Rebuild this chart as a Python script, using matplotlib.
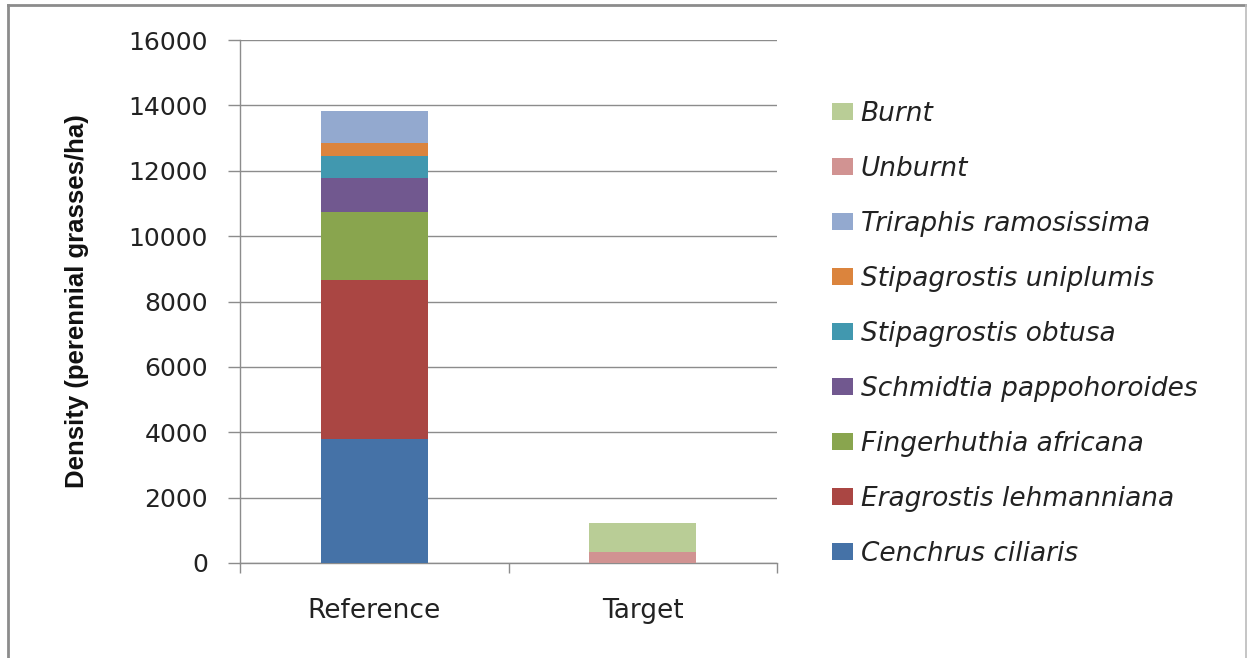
import matplotlib
matplotlib.use("Agg")
import matplotlib.pyplot as plt
from matplotlib.lines import Line2D
from matplotlib.patches import Patch

# Data
categories = ["Reference", "Target"]
species = ["Cenchrus ciliaris", "Eragrostis lehmanniana", "Fingerhuthia africana",
           "Schmidtia pappohoroides", "Stipagrostis obtusa", "Stipagrostis uniplumis",
           "Triraphis ramosissima", "Unburnt", "Burnt"]
cenchrus = [3790, 0]
eragrostis = [4870, 0]
fingerhuthia = [2090, 0]
schmidtia = [1040, 0]
stip_obtusa = [660, 0]
stip_uniplumis = [405, 0]
triraphis = [970, 0]
unburnt = [0, 330]
burnt = [0, 885]
yticks = [0, 2000, 4000, 6000, 8000, 10000, 12000, 14000, 16000]

series = [cenchrus, eragrostis, fingerhuthia, schmidtia, stip_obtusa,
          stip_uniplumis, triraphis, unburnt, burnt]
colors = ["#4572A7", "#AA4643", "#89A54E", "#71588F", "#4198AF",
          "#DB843D", "#93A9CF", "#D19392", "#B9CD96"]

fig = plt.figure(figsize=(12.47, 6.58), dpi=100)
ax = fig.add_axes([240 / 1247, 1 - 563 / 658, 537 / 1247, 523 / 658])

x = list(range(len(categories)))
bottom = [0, 0]
for vals, col, name in zip(series, colors, species):
    ax.bar(x, vals, width=0.4, bottom=bottom, color=col, label=name, zorder=3)
    bottom = [b + v for b, v in zip(bottom, vals)]

grid_col = "#8C8C8C"
ax.set_ylim(0, 16000)
ax.set_xlim(-0.5, 1.5)
ax.set_yticks(yticks)
ax.set_yticklabels([str(t) for t in yticks])
ax.yaxis.grid(True, color=grid_col, linewidth=1.0, zorder=0)
ax.set_axisbelow(True)

ax.set_xticks([-0.5, 0.5, 1.5])
ax.set_xticklabels([])
ax.set_xticks(x, minor=True)
ax.set_xticklabels(categories, minor=True)
ax.tick_params(axis="x", which="major", length=7, color=grid_col, width=1)
ax.tick_params(axis="x", which="minor", length=0, pad=25, labelsize=19, labelcolor="#222222")
ax.tick_params(axis="y", length=9, color=grid_col, width=1, pad=14, labelsize=18,
               labelcolor="#222222")

for s in ["top", "right"]:
    ax.spines[s].set_visible(False)
for s in ["left", "bottom"]:
    ax.spines[s].set_color(grid_col)
    ax.spines[s].set_linewidth(1.0)

ax.set_ylabel("Density (perennial grasses/ha)", fontsize=18.5, fontweight="bold",
              family=["Liberation Sans", "DejaVu Sans"], color="#111111")
ax.yaxis.label.set_va("center")
ax.yaxis.set_label_coords(-0.3035, 0.5)

handles = [Patch(facecolor=c, label=n) for c, n in zip(colors, species)][::-1]
fig.legend(handles=handles, loc="upper left", bbox_to_anchor=(821 / 1247, 1 - 90 / 658),
           frameon=False, prop={"size": 19, "style": "italic"},
           handlelength=0.8, handleheight=0.6, handletextpad=0.3,
           labelspacing=1.1, borderaxespad=0, labelcolor="#222222")

# outer frame (left, top, right edges)
fig.add_artist(Line2D([8 / 1247, 8 / 1247], [0, 1 - 5 / 658], transform=fig.transFigure,
                      color="#8C8C8C", linewidth=2))
fig.add_artist(Line2D([8 / 1247, 1246 / 1247], [1 - 5 / 658, 1 - 5 / 658],
                      transform=fig.transFigure, color="#8C8C8C", linewidth=2))
fig.add_artist(Line2D([1246 / 1247, 1246 / 1247], [0, 1 - 5 / 658], transform=fig.transFigure,
                      color="#BBBBBB", linewidth=1.2))

fig.savefig("out.png", dpi=100)
